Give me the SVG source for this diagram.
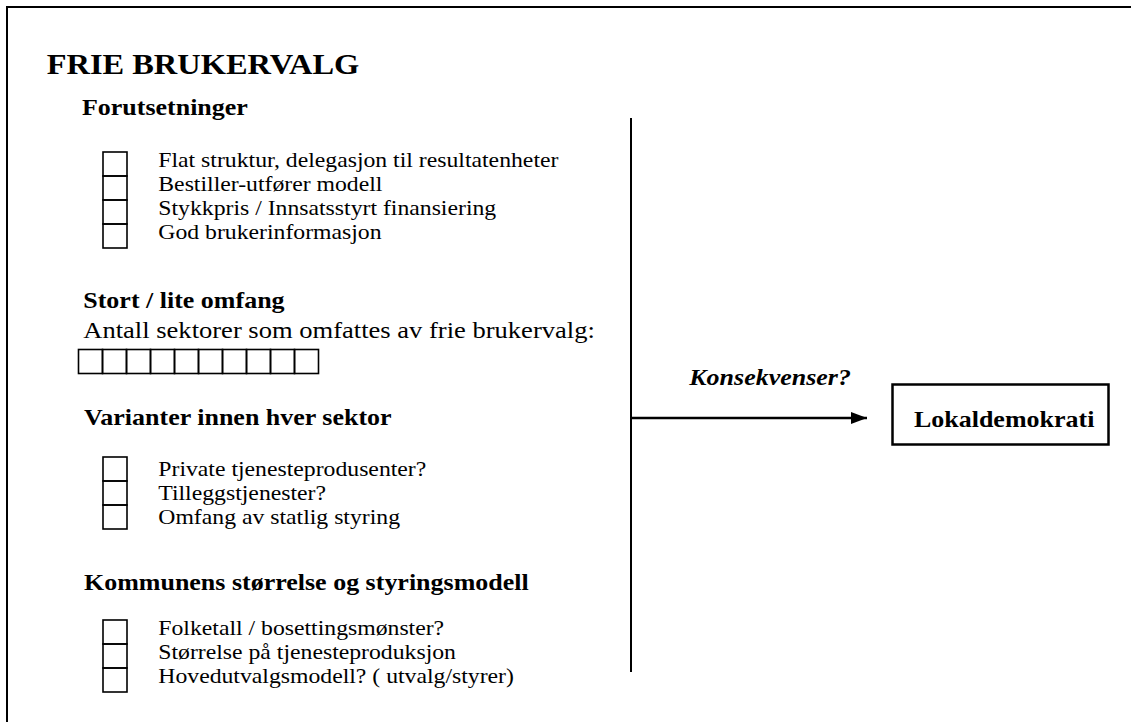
<svg xmlns="http://www.w3.org/2000/svg" width="1131" height="722" viewBox="0 0 1131 722">
<style>
.t{font-family:"Liberation Serif","Times New Roman",serif;fill:#000}
.title{font-size:28.7px;font-weight:bold}
.h{font-size:23px;font-weight:bold}
.b{font-size:21px}
.bl{font-size:23.5px}
.k{font-size:23px;font-weight:bold;font-style:italic}
.cb{fill:none;stroke:#000;stroke-width:1.6}
.ln{fill:none;stroke:#000;stroke-width:2}
</style>
<defs>
<marker id="ah" markerWidth="16" markerHeight="12" refX="16" refY="6" orient="auto" markerUnits="userSpaceOnUse">
<path d="M0,0 L16,6 L0,12 Z" fill="#000"/>
</marker>
</defs>
<rect width="1131" height="722" fill="#fff"/>
<path class="ln" d="M7,722 V7 H1131"/>

<g id="title" transform="scale(1.13 1)">
<text class="t title" x="41.3" y="74">FRIE BRUKERVALG</text>
</g>

<g id="forutsetninger">
<g class="cb">
<rect x="103" y="152" width="24" height="24"/>
<rect x="103" y="176" width="24" height="24"/>
<rect x="103" y="200" width="24" height="24"/>
<rect x="103" y="224" width="24" height="24"/>
</g>
<g transform="scale(1.13 1)">
<text class="t h" x="72.5" y="115">Forutsetninger</text>
<text class="t b" x="140.1" y="167">Flat struktur, delegasjon til resultatenheter</text>
<text class="t b" x="140.1" y="191">Bestiller-utfører modell</text>
<text class="t b" x="140.1" y="215">Stykkpris / Innsatsstyrt finansiering</text>
<text class="t b" x="140.1" y="239">God brukerinformasjon</text>
</g>
</g>

<g id="omfang">
<g class="cb">
<rect x="78.5" y="349.5" width="24" height="24"/>
<rect x="102.5" y="349.5" width="24" height="24"/>
<rect x="126.5" y="349.5" width="24" height="24"/>
<rect x="150.5" y="349.5" width="24" height="24"/>
<rect x="174.5" y="349.5" width="24" height="24"/>
<rect x="198.5" y="349.5" width="24" height="24"/>
<rect x="222.5" y="349.5" width="24" height="24"/>
<rect x="246.5" y="349.5" width="24" height="24"/>
<rect x="270.5" y="349.5" width="24" height="24"/>
<rect x="294.5" y="349.5" width="24" height="24"/>
</g>
<g transform="scale(1.13 1)">
<text class="t h" x="73.7" y="308">Stort / lite omfang</text>
<text class="t bl" x="73.7" y="338">Antall sektorer som omfattes av frie brukervalg:</text>
</g>
</g>

<g id="varianter">
<g class="cb">
<rect x="103" y="457" width="24" height="24"/>
<rect x="103" y="481" width="24" height="24"/>
<rect x="103" y="505" width="24" height="24"/>
</g>
<g transform="scale(1.13 1)">
<text class="t h" x="74.3" y="425">Varianter innen hver sektor</text>
<text class="t b" x="140.1" y="476">Private tjenesteprodusenter?</text>
<text class="t b" x="140.1" y="500">Tilleggstjenester?</text>
<text class="t b" x="140.1" y="524">Omfang av statlig styring</text>
</g>
</g>

<g id="kommunens">
<g class="cb">
<rect x="103" y="620" width="24" height="24"/>
<rect x="103" y="644" width="24" height="24"/>
<rect x="103" y="668" width="24" height="24"/>
</g>
<g transform="scale(1.13 1)">
<text class="t h" x="74.3" y="590">Kommunens størrelse og styringsmodell</text>
<text class="t b" x="140.1" y="635">Folketall / bosettingsmønster?</text>
<text class="t b" x="140.1" y="659">Størrelse på tjenesteproduksjon</text>
<text class="t b" x="140.1" y="683">Hovedutvalgsmodell? ( utvalg/styrer)</text>
</g>
</g>

<g id="lokaldemokrati">
<rect x="892.5" y="384.5" width="216" height="60" fill="#fff" stroke="#000" stroke-width="2.5"/>
<g transform="scale(1.13 1)">
<text class="t h" x="808.8" y="427">Lokaldemokrati</text>
</g>
</g>

<g id="connectors">
<line class="ln" x1="631" y1="118" x2="631" y2="672"/>
<line x1="631" y1="418" x2="867" y2="418" stroke="#000" stroke-width="2.5" marker-end="url(#ah)"/>
<g transform="scale(1.13 1)">
<text class="t k" x="610" y="385">Konsekvenser?</text>
</g>
</g>
</svg>
